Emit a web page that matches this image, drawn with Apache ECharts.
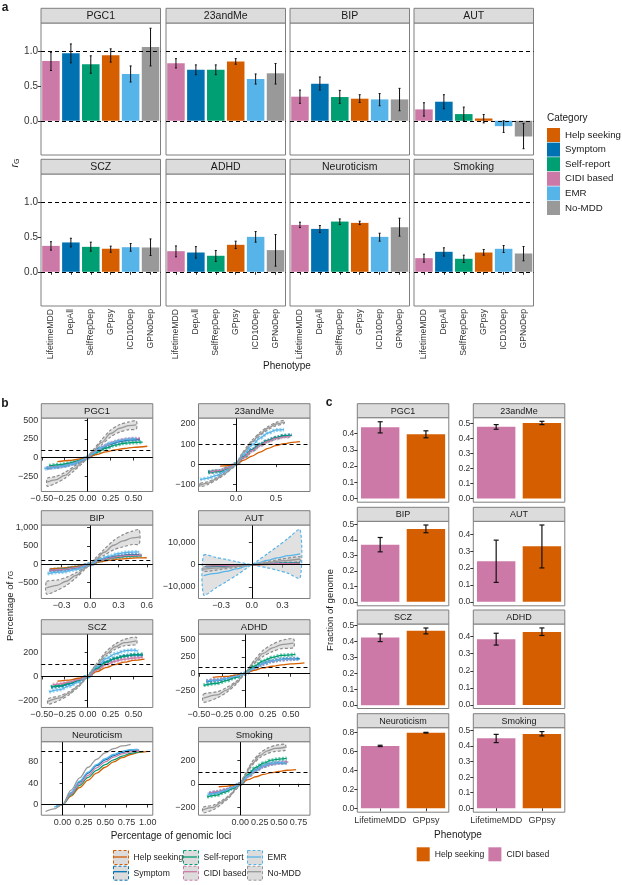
<!DOCTYPE html>
<html><head><meta charset="utf-8">
<script src="https://cdn.jsdelivr.net/npm/echarts@6/dist/echarts.min.js"></script>
<style>html,body{margin:0;padding:0;background:#fff}#chart{width:622px;height:885px}</style>
</head><body><div id="chart"></div>
<script>
// ---------------- DATA ----------------
const categories = ['Help seeking','Symptom','Self-report','CIDI based','EMR','No-MDD'];
const catColors  = ['#D55E00','#0072B2','#009E73','#CC79A7','#56B4E9','#999999'];

// Panel a
const phenotypes    = ['LifetimeMDD','DepAll','SelfRepDep','GPpsy','ICD10Dep','GPNoDep'];
const phenoCategory = ['CIDI based','Symptom','Self-report','Help seeking','EMR','No-MDD'];
const traits        = ['PGC1','23andMe','BIP','AUT','SCZ','ADHD','Neuroticism','Smoking'];
const rgMean = [
  [0.856,0.966,0.81,0.94,0.67,1.057],
  [0.823,0.732,0.732,0.85,0.598,0.68],
  [0.345,0.53,0.34,0.316,0.306,0.306],
  [0.163,0.273,0.096,0.033,-0.077,-0.225],
  [0.371,0.42,0.357,0.33,0.352,0.348],
  [0.295,0.276,0.229,0.386,0.5,0.31],
  [0.671,0.614,0.719,0.7,0.5,0.638],
  [0.195,0.286,0.186,0.276,0.329,0.262]
];
const rgLow = [
  [0.72,0.83,0.68,0.84,0.555,0.785],
  [0.756,0.66,0.66,0.81,0.526,0.526],
  [0.25,0.44,0.25,0.263,0.215,0.144],
  [0.067,0.172,0.0,-0.03,-0.167,-0.40],
  [0.31,0.357,0.295,0.28,0.295,0.233],
  [0.214,0.195,0.148,0.333,0.424,0.081],
  [0.633,0.562,0.676,0.676,0.438,0.51],
  [0.138,0.224,0.133,0.238,0.276,0.157]
];
const rgHigh = [
  [0.98,1.10,0.93,1.03,0.785,1.325],
  [0.89,0.80,0.80,0.89,0.67,0.82],
  [0.44,0.627,0.435,0.373,0.39,0.464],
  [0.258,0.373,0.196,0.09,0.0,-0.04],
  [0.43,0.48,0.424,0.367,0.405,0.47],
  [0.37,0.36,0.305,0.438,0.576,0.533],
  [0.71,0.662,0.757,0.724,0.552,0.767],
  [0.252,0.343,0.238,0.319,0.376,0.362]
];
const rgTicks  = [0, 0.5, 1.0];
const rgLabels = ['0.0','0.5','1.0'];

// Panel b (x = percentage of genomic loci, y = percentage of rG)
const pgc1_help = [[-0.33,-55],[-0.2,-40],[-0.1,-22],[0,0],[0.1,40],[0.2,75],[0.3,100],[0.4,120],[0.5,135],[0.65,150]];
const pgc1_symp = [[-0.45,-145],[-0.35,-130],[-0.25,-110],[-0.15,-80],[-0.05,-30],[0,0],[0.05,45],[0.15,125],[0.25,180],[0.35,215],[0.45,235],[0.57,240]];
const pgc1_self = [[-0.42,-110],[-0.3,-95],[-0.2,-75],[-0.1,-45],[0,0],[0.1,70],[0.2,125],[0.3,165],[0.4,190],[0.5,200],[0.6,205]];
const pgc1_cidi = [[-0.44,-140],[-0.3,-120],[-0.2,-95],[-0.1,-55],[0,0],[0.1,90],[0.2,160],[0.3,210],[0.4,240],[0.5,252],[0.57,248]];
const pgc1_emr  = [[-0.47,-150],[-0.35,-130],[-0.25,-110],[-0.15,-80],[-0.05,-30],[0,0],[0.05,50],[0.15,130],[0.25,190],[0.35,225],[0.45,245],[0.53,250]];
const pgc1_nomdd= [[-0.44,-330],[-0.35,-300],[-0.25,-240],[-0.15,-150],[-0.05,-55],[0,0],[0.05,70],[0.15,200],[0.25,320],[0.35,390],[0.45,425],[0.53,435]];
const pgc1_nomdd_hi = [[-0.44,-280],[-0.35,-255],[-0.25,-200],[-0.15,-120],[-0.05,-40],[0,0],[0.05,85],[0.15,235],[0.25,365],[0.35,440],[0.45,475],[0.53,488]];
const pgc1_nomdd_lo = [[-0.44,-385],[-0.35,-345],[-0.25,-280],[-0.15,-180],[-0.05,-70],[0,0],[0.05,55],[0.15,165],[0.25,275],[0.35,340],[0.45,372],[0.53,380]];

const m23_help = [[-0.2,-10],[-0.1,-8],[0,0],[0.1,20],[0.2,40],[0.3,60],[0.4,78],[0.5,92],[0.6,102],[0.7,108],[0.8,112]];
const m23_symp = [[-0.35,-40],[-0.2,-35],[-0.1,-20],[0,0],[0.1,38],[0.2,72],[0.3,98],[0.4,118],[0.5,132],[0.6,142],[0.7,145]];
const m23_self = [[-0.35,-42],[-0.2,-36],[-0.1,-21],[0,0],[0.1,36],[0.2,70],[0.3,96],[0.4,117],[0.5,131],[0.6,140],[0.68,143]];
const m23_cidi = [[-0.33,-40],[-0.2,-33],[-0.1,-19],[0,0],[0.1,35],[0.2,68],[0.3,93],[0.4,114],[0.5,128],[0.6,136],[0.68,138]];
const m23_emr  = [[-0.45,-78],[-0.35,-70],[-0.25,-58],[-0.15,-40],[-0.05,-15],[0,0],[0.1,50],[0.2,95],[0.3,130],[0.4,155],[0.5,170],[0.6,172]];
const m23_nomdd= [[-0.45,-105],[-0.35,-95],[-0.25,-75],[-0.15,-50],[-0.05,-18],[0,0],[0.1,62],[0.2,112],[0.3,150],[0.4,180],[0.5,200],[0.6,210]];
const m23_nomdd_hi = [[-0.45,-97],[-0.35,-88],[-0.25,-69],[-0.15,-45],[-0.05,-15],[0,0],[0.1,67],[0.2,119],[0.3,158],[0.4,188],[0.5,208],[0.6,218]];
const m23_nomdd_lo = [[-0.45,-113],[-0.35,-102],[-0.25,-81],[-0.15,-55],[-0.05,-21],[0,0],[0.1,57],[0.2,105],[0.3,142],[0.4,172],[0.5,192],[0.6,202]];

const bip_help = [[-0.42,-120],[-0.3,-100],[-0.15,-60],[0,0],[0.1,70],[0.2,110],[0.3,140],[0.4,160],[0.5,175],[0.6,180]];
const bip_symp = [[-0.43,-170],[-0.3,-145],[-0.15,-90],[0,0],[0.1,110],[0.2,180],[0.3,225],[0.4,255],[0.52,265]];
const bip_self = [[-0.42,-150],[-0.3,-130],[-0.15,-80],[0,0],[0.1,95],[0.2,160],[0.3,200],[0.4,225],[0.55,235]];
const bip_cidi = [[-0.43,-160],[-0.3,-140],[-0.15,-88],[0,0],[0.1,100],[0.2,170],[0.3,215],[0.4,245],[0.55,250]];
const bip_emr  = [[-0.45,-250],[-0.3,-210],[-0.15,-140],[0,0],[0.1,130],[0.2,220],[0.3,290],[0.4,330],[0.52,340]];
const bip_nomdd= [[-0.46,-640],[-0.35,-570],[-0.25,-460],[-0.15,-300],[-0.05,-100],[0,0],[0.05,120],[0.15,330],[0.25,520],[0.35,640],[0.45,720],[0.52,740]];
const bip_nomdd_hi = [[-0.46,-470],[-0.35,-430],[-0.25,-350],[-0.15,-230],[-0.05,-75],[0,0],[0.05,150],[0.15,410],[0.25,650],[0.35,810],[0.45,905],[0.52,940]];
const bip_nomdd_lo = [[-0.46,-810],[-0.35,-710],[-0.25,-570],[-0.15,-370],[-0.05,-125],[0,0],[0.05,90],[0.15,250],[0.25,395],[0.35,480],[0.45,540],[0.52,555]];

const aut_help = [[-0.4,-250],[-0.2,-150],[0,0],[0.2,200],[0.47,350]];
const aut_symp = [[-0.45,-1000],[-0.25,-650],[0,0],[0.25,700],[0.47,1100]];
const aut_self = [[-0.45,-700],[-0.25,-450],[0,0],[0.25,500],[0.47,800]];
const aut_cidi = [[-0.45,-600],[-0.25,-400],[0,0],[0.25,450],[0.47,700]];
const aut_emr  = [[-0.47,-4900],[-0.35,-3900],[-0.25,-3000],[-0.15,-1900],[-0.05,-650],[0,0],[0.05,700],[0.15,2000],[0.25,3100],[0.35,4100],[0.47,4900]];
const aut_emr_hi = [[-0.47,4300],[-0.35,3300],[-0.25,2400],[-0.15,1400],[-0.05,450],[0,0],[0.05,1600],[0.15,4900],[0.25,8300],[0.35,11800],[0.47,15900]];
const aut_emr_lo = [[-0.47,-13700],[-0.35,-10500],[-0.25,-7700],[-0.15,-4800],[-0.05,-1600],[0,0],[0.05,-450],[0.15,-1400],[0.25,-2500],[0.35,-3800],[0.47,-6000]];
const aut_nomdd= [[-0.47,-2000],[-0.3,-1400],[-0.15,-750],[0,0],[0.15,900],[0.3,1800],[0.47,2600]];
const aut_nomdd_hi = [[-0.47,-1000],[-0.3,-700],[-0.15,-350],[0,0],[0.15,1400],[0.3,2600],[0.47,3600]];
const aut_nomdd_lo = [[-0.47,-3000],[-0.3,-2100],[-0.15,-1150],[0,0],[0.15,400],[0.3,1000],[0.47,1600]];

const scz_help = [[-0.33,-40],[-0.2,-30],[-0.1,-15],[0,0],[0.1,40],[0.2,75],[0.3,100],[0.4,120],[0.5,135],[0.62,145]];
const scz_symp = [[-0.4,-90],[-0.3,-82],[-0.2,-62],[-0.1,-35],[0,0],[0.1,68],[0.2,122],[0.3,152],[0.4,172],[0.5,182],[0.6,180]];
const scz_self = [[-0.4,-88],[-0.3,-78],[-0.2,-58],[-0.1,-33],[0,0],[0.1,65],[0.2,118],[0.3,150],[0.4,170],[0.5,182],[0.6,186]];
const scz_cidi = [[-0.38,-70],[-0.3,-62],[-0.2,-48],[-0.1,-27],[0,0],[0.1,55],[0.2,100],[0.3,128],[0.4,145],[0.5,155],[0.6,160]];
const scz_emr  = [[-0.42,-130],[-0.3,-110],[-0.2,-80],[-0.1,-45],[0,0],[0.1,80],[0.2,150],[0.3,190],[0.4,215],[0.5,222],[0.55,212]];
const scz_nomdd= [[-0.43,-210],[-0.3,-180],[-0.2,-140],[-0.1,-80],[0,0],[0.1,100],[0.2,190],[0.3,250],[0.4,285],[0.53,300]];
const scz_nomdd_hi = [[-0.43,-188],[-0.3,-162],[-0.2,-127],[-0.1,-72],[0,0],[0.1,110],[0.2,208],[0.3,272],[0.4,312],[0.53,330]];
const scz_nomdd_lo = [[-0.43,-234],[-0.3,-198],[-0.2,-153],[-0.1,-88],[0,0],[0.1,90],[0.2,172],[0.3,228],[0.4,258],[0.53,270]];

const adhd_help = [[-0.35,-55],[-0.2,-40],[-0.1,-20],[0,0],[0.1,50],[0.2,85],[0.3,110],[0.4,130],[0.5,145],[0.65,160]];
const adhd_symp = [[-0.42,-115],[-0.3,-98],[-0.2,-72],[-0.1,-40],[0,0],[0.1,82],[0.2,150],[0.3,190],[0.4,212],[0.5,222],[0.6,218]];
const adhd_self = [[-0.45,-170],[-0.3,-140],[-0.2,-100],[-0.1,-55],[0,0],[0.1,110],[0.2,190],[0.3,240],[0.4,270],[0.55,285]];
const adhd_cidi = [[-0.42,-105],[-0.3,-90],[-0.2,-68],[-0.1,-38],[0,0],[0.1,78],[0.2,145],[0.3,185],[0.4,208],[0.55,218]];
const adhd_emr  = [[-0.42,-110],[-0.3,-94],[-0.2,-70],[-0.1,-40],[0,0],[0.1,80],[0.2,148],[0.3,188],[0.4,210],[0.5,220],[0.57,215]];
const adhd_nomdd= [[-0.45,-360],[-0.3,-310],[-0.2,-240],[-0.1,-140],[0,0],[0.1,170],[0.2,300],[0.3,380],[0.4,430],[0.53,450]];
const adhd_nomdd_hi = [[-0.45,-300],[-0.3,-265],[-0.2,-205],[-0.1,-118],[0,0],[0.1,195],[0.2,345],[0.3,435],[0.4,490],[0.53,515]];
const adhd_nomdd_lo = [[-0.45,-420],[-0.3,-355],[-0.2,-275],[-0.1,-162],[0,0],[0.1,145],[0.2,255],[0.3,325],[0.4,370],[0.53,385]];

const neu_help = [[-0.05,-3],[0,0],[0.1,16],[0.2,32],[0.3,46],[0.4,59],[0.5,70],[0.6,80],[0.7,88],[0.8,94],[0.9,98],[1.0,100]];
const neu_symp = [[-0.08,-4],[0,0],[0.1,22],[0.2,42],[0.3,59],[0.4,73],[0.5,84],[0.6,92],[0.7,98],[0.8,102],[0.9,102]];
const neu_self = [[-0.06,-3],[0,0],[0.1,18],[0.2,36],[0.3,51],[0.4,64],[0.5,75],[0.6,84],[0.7,91],[0.8,96],[0.9,99],[0.95,100]];
const neu_cidi = [[-0.07,-3],[0,0],[0.1,20],[0.2,39],[0.3,55],[0.4,69],[0.5,80],[0.6,89],[0.7,95],[0.8,99],[0.9,101]];
const neu_emr  = [[-0.1,-5],[0,0],[0.1,23],[0.2,44],[0.3,61],[0.4,75],[0.5,86],[0.6,94],[0.7,100],[0.8,103],[0.88,104]];
const neu_nomdd= [[-0.2,-13],[-0.1,-8],[0,0],[0.1,27],[0.2,50],[0.3,70],[0.4,85],[0.5,97],[0.6,105],[0.7,110],[0.8,113]];

const smk_help = [[-0.28,-25],[-0.2,-22],[-0.1,-12],[0,0],[0.1,35],[0.2,60],[0.3,80],[0.4,95],[0.5,105],[0.6,115],[0.72,120]];
const smk_symp = [[-0.4,-82],[-0.3,-72],[-0.2,-56],[-0.1,-31],[0,0],[0.1,66],[0.2,116],[0.3,150],[0.4,170],[0.5,178],[0.6,180]];
const smk_self = [[-0.43,-110],[-0.3,-95],[-0.2,-70],[-0.1,-40],[0,0],[0.1,80],[0.2,140],[0.3,175],[0.4,200],[0.5,210],[0.6,215]];
const smk_cidi = [[-0.4,-78],[-0.3,-68],[-0.2,-53],[-0.1,-30],[0,0],[0.1,64],[0.2,114],[0.3,148],[0.4,168],[0.5,178],[0.62,185]];
const smk_emr  = [[-0.42,-90],[-0.3,-76],[-0.2,-58],[-0.1,-32],[0,0],[0.1,68],[0.2,118],[0.3,152],[0.4,172],[0.5,180],[0.6,178]];
const smk_nomdd= [[-0.48,-220],[-0.35,-200],[-0.25,-160],[-0.15,-110],[-0.05,-40],[0,0],[0.05,60],[0.15,170],[0.25,240],[0.35,280],[0.45,300],[0.58,310]];
const smk_nomdd_hi = [[-0.48,-198],[-0.35,-182],[-0.25,-146],[-0.15,-100],[-0.05,-36],[0,0],[0.05,66],[0.15,185],[0.25,260],[0.35,303],[0.45,325],[0.58,335]];
const smk_nomdd_lo = [[-0.48,-245],[-0.35,-220],[-0.25,-176],[-0.15,-120],[-0.05,-44],[0,0],[0.05,54],[0.15,155],[0.25,220],[0.35,257],[0.45,275],[0.58,285]];

// curves per facet, in category order (Help seeking, Symptom, Self-report, CIDI based, EMR, No-MDD)
const bCurves = [
  [pgc1_help,pgc1_symp,pgc1_self,pgc1_cidi,pgc1_emr,pgc1_nomdd],
  [m23_help,m23_symp,m23_self,m23_cidi,m23_emr,m23_nomdd],
  [bip_help,bip_symp,bip_self,bip_cidi,bip_emr,bip_nomdd],
  [aut_help,aut_symp,aut_self,aut_cidi,aut_emr,aut_nomdd],
  [scz_help,scz_symp,scz_self,scz_cidi,scz_emr,scz_nomdd],
  [adhd_help,adhd_symp,adhd_self,adhd_cidi,adhd_emr,adhd_nomdd],
  [neu_help,neu_symp,neu_self,neu_cidi,neu_emr,neu_nomdd],
  [smk_help,smk_symp,smk_self,smk_cidi,smk_emr,smk_nomdd]
];
// confidence bands drawn as grey ribbons: [facet, category, hi, lo]
const bBands = [
  [0,5,pgc1_nomdd_hi,pgc1_nomdd_lo],
  [1,5,m23_nomdd_hi,m23_nomdd_lo],
  [2,5,bip_nomdd_hi,bip_nomdd_lo],
  [3,4,aut_emr_hi,aut_emr_lo],
  [3,5,aut_nomdd_hi,aut_nomdd_lo],
  [4,5,scz_nomdd_hi,scz_nomdd_lo],
  [5,5,adhd_nomdd_hi,adhd_nomdd_lo],
  [7,5,smk_nomdd_hi,smk_nomdd_lo]
];
const bXTicks = [[-0.5,-0.25,0,0.25,0.5],[0,0.5],[-0.3,0,0.3,0.6],[-0.3,0,0.3],[-0.5,-0.25,0,0.25,0.5],[-0.5,-0.25,0,0.25,0.5],[0,0.25,0.5,0.75,1],[-0.25,0,0.25,0.5,0.75]];
const bXLabels = [['\u22120.50','\u22120.25','0.00','0.25','0.50'],['0.0','0.5'],['\u22120.3','0.0','0.3','0.6'],['\u22120.3','0.0','0.3'],['\u22120.50','\u22120.25','0.00','0.25','0.50'],['\u22120.50','\u22120.25','0.00','0.25','0.50'],['0.00','0.25','0.50','0.75','1.00'],['\u22120.25','0.00','0.25','0.50','0.75']];
const bYTicks = [[-250,0,250,500],[-100,0,100,200],[-500,0,500,1000],[-10000,0,10000],[-200,0,200],[-250,0,250,500],[0,40,80],[-200,0,200]];
const bYLabels = [['\u2212250','0','250','500'],['\u2212100','0','100','200'],['\u2212500','0','500','1,000'],['\u221210,000','0','10,000'],['\u2212200','0','200'],['\u2212250','0','250','500'],['0','40','80'],['\u2212200','0','200']];

// Panel c
const cPhenotypes = ['LifetimeMDD','GPpsy'];
const cCategories = ['CIDI based','Help seeking'];
const fracMean = [[0.44,0.396],[0.476,0.502],[0.37,0.472],[0.241,0.33],[0.423,0.465],[0.384,0.427],[0.66,0.8],[0.451,0.479]];
const fracLow  = [[0.405,0.375],[0.46,0.491],[0.324,0.448],[0.115,0.201],[0.398,0.446],[0.35,0.406],[0.653,0.796],[0.423,0.466]];
const fracHigh = [[0.474,0.418],[0.491,0.513],[0.417,0.498],[0.366,0.456],[0.446,0.483],[0.419,0.45],[0.667,0.804],[0.476,0.494]];
const fracTicks = [[0,0.1,0.2,0.3,0.4],[0,0.1,0.2,0.3,0.4,0.5],[0,0.1,0.2,0.3,0.4,0.5],[0,0.1,0.2,0.3,0.4],[0,0.1,0.2,0.3,0.4,0.5],[0,0.1,0.2,0.3,0.4],[0,0.2,0.4,0.6,0.8],[0,0.1,0.2,0.3,0.4,0.5]];

// ---------------- LAYOUT ----------------
const FONT = '"Liberation Sans", Arial, Helvetica, sans-serif';
const TXT = '#333';
const grids=[], xAxes=[], yAxes=[], series=[], graphics=[];
const colorOf = c => catColors[categories.indexOf(c)];

function strip(left, top, width, h, text, fs){
  graphics.push({type:'rect', silent:true, z:10, shape:{x:left, y:top-h, width:width, height:h},
    style:{fill:'#dcdcdc', stroke:'#7f7f7f', lineWidth:1}});
  graphics.push({type:'text', silent:true, z:11, x:left+width/2, y:top-h/2+0.5,
    style:{text:text, fill:'#1a1a1a', font:fs+'px '+FONT, align:'center', verticalAlign:'middle'}});
}
function lbl(text, x, y, opts, rot){
  const g = {type:'text', silent:true, x:x, y:y,
    style:Object.assign({text:text, fill:'#1a1a1a', font:'10px '+FONT, align:'center', verticalAlign:'middle'}, opts||{})};
  if(rot) g.rotation = rot;
  graphics.push(g);
}
function mapFmt(ticks, labels){ return v => { const i = ticks.findIndex(t => Math.abs(t-v)<1e-9); return i<0?'':labels[i]; }; }
function errSeries(gi, data, cap, lw){
  return {type:'custom', xAxisIndex:gi, yAxisIndex:gi, data:data, encode:{x:0,y:[1,2]}, z:6, silent:true,
    renderItem:(p, api)=>{
      const a=api.coord([api.value(0), api.value(1)]), b=api.coord([api.value(0), api.value(2)]);
      const x=a[0], st={stroke:'#111', lineWidth:lw};
      return {type:'group', children:[
        {type:'line', shape:{x1:x,y1:a[1],x2:x,y2:b[1]}, style:st},
        {type:'line', shape:{x1:x-cap,y1:a[1],x2:x+cap,y2:a[1]}, style:st},
        {type:'line', shape:{x1:x-cap,y1:b[1],x2:x+cap,y2:b[1]}, style:st}]};
    }};
}

// ---- Panel a ----
const aCols=[41,166,290,414], aRows=[23,174], aW=119.5, aH=132;
traits.forEach((t,f)=>{
  const col=f%4, row=Math.floor(f/4), gi=grids.length;
  grids.push({left:aCols[col], top:aRows[row], width:aW, height:aH, show:true, borderColor:'#7f7f7f', borderWidth:1, backgroundColor:'#fff'});
  xAxes.push({type:'category', gridIndex:gi, data:phenotypes, axisLine:{show:false},
    axisTick:{show:row===1, length:3, alignWithLabel:true, lineStyle:{color:TXT}},
    axisLabel:{show:row===1, interval:0, rotate:90, fontSize:8.7, margin:3, color:TXT, fontFamily:FONT}});
  yAxes.push({type:'value', gridIndex:gi, min:-0.49, max:1.4, splitLine:{show:false}, axisLine:{show:false},
    axisTick:{show:col===0, length:3, customValues:rgTicks, lineStyle:{color:TXT}},
    axisLabel:{show:col===0, customValues:rgTicks, formatter:mapFmt(rgTicks,rgLabels), fontSize:10, margin:3, color:TXT, fontFamily:FONT}});
  phenotypes.forEach((p,k)=>{
    const s = {type:'bar', name:phenoCategory[k], xAxisIndex:gi, yAxisIndex:gi, stack:'a'+f, barWidth:'88%',
      itemStyle:{color:colorOf(phenoCategory[k])},
      data:phenotypes.map((q,j)=> j===k ? rgMean[f][k] : '-')};
    if(k===0){
      s.markLine = {silent:true, symbol:'none', label:{show:false}, animation:false,
        lineStyle:{color:'#000', type:[4,3], width:1.2}, data:[{yAxis:0},{yAxis:1}]};
    }
    series.push(s);
  });
  series.push(errSeries(gi, phenotypes.map((p,k)=>[k, rgLow[f][k], rgHigh[f][k]]), 1, 1));
  strip(aCols[col], aRows[row], aW, 14.7, t, 10.5);
});

// ---- Panel b ----
const bCols=[41.3,198.5], bRows=[418,525,634,741.7], bW=111.5, bH=73.5;
const bXRange=[[-0.505,0.71],[-0.47,0.925],[-0.516,0.664],[-0.52,0.567],[-0.505,0.71],[-0.505,0.71],[-0.25,1.06],[-0.54,0.90]];
const bYRange=[[-454,527],[-137,230],[-929,1071],[-15300,18000],[-261,357],[-497,585],[-20,118],[-266,357]];
traits.forEach((t,f)=>{
  const col=f%2, row=Math.floor(f/2), gi=grids.length;
  grids.push({left:bCols[col], top:bRows[row], width:bW, height:bH, show:true, borderColor:'#7f7f7f', borderWidth:1, backgroundColor:'#fff'});
  xAxes.push({type:'value', gridIndex:gi, min:bXRange[f][0], max:bXRange[f][1], splitLine:{show:false}, axisLine:{show:false},
    axisTick:{show:true, length:3, customValues:bXTicks[f], lineStyle:{color:TXT}},
    axisLabel:{customValues:bXTicks[f], formatter:mapFmt(bXTicks[f],bXLabels[f]), fontSize:9, margin:3, color:TXT, fontFamily:FONT}});
  yAxes.push({type:'value', gridIndex:gi, min:bYRange[f][0], max:bYRange[f][1], splitLine:{show:false}, axisLine:{show:false},
    axisTick:{show:true, length:3, customValues:bYTicks[f], lineStyle:{color:TXT}},
    axisLabel:{customValues:bYTicks[f], formatter:mapFmt(bYTicks[f],bYLabels[f]), fontSize:9, margin:3, color:TXT, fontFamily:FONT}});
  // reference lines
  series.push({type:'line', xAxisIndex:gi, yAxisIndex:gi, data:[], silent:true,
    markLine:{silent:true, symbol:'none', label:{show:false}, animation:false, z:8,
      data:[{yAxis:0, lineStyle:{color:'#000', type:'solid', width:1}},
            {xAxis:0, lineStyle:{color:'#000', type:'solid', width:1}},
            {yAxis:100, lineStyle:{color:'#000', type:[4,3], width:1.2}}]}});
  // ribbons
  bBands.filter(b=>b[0]===f).forEach(b=>{
    const hi=b[2], lo=b[3], edge = b[1]===5 ? '#8c8c8c' : catColors[b[1]];
    series.push({type:'custom', xAxisIndex:gi, yAxisIndex:gi, data:[hi[0]], silent:true, z:2,
      renderItem:(p, api)=>{
        const pts = hi.map(q=>api.coord(q)).concat(lo.slice().reverse().map(q=>api.coord(q)));
        return {type:'polygon', shape:{points:pts, smooth:0.25}, style:{fill:'rgba(200,200,200,0.55)', stroke:edge, lineWidth:1.2, lineDash:[3,2]}};
      }});
  });
  // curves
  [0,1,2,3,4,5].forEach(c=>{
    const d=bCurves[f][c];
    const beaded = (c===1||c===2||c===3||c===4) && f!==6 && f!==3;
    if(beaded){
      series.push({type:'line', xAxisIndex:gi, yAxisIndex:gi, data:d, smooth:0.35, smoothMonotone:'x', showSymbol:false, silent:true, z:3,
        lineStyle:{color:catColors[c], width:4, type:[2,1.5], opacity:0.55}});
    }
    series.push({type:'line', name:'b:'+categories[c], xAxisIndex:gi, yAxisIndex:gi, data:d, smooth:0.35, smoothMonotone:'x', showSymbol:false, silent:true, z:4,
      itemStyle:{color:catColors[c]}, lineStyle:{color:catColors[c], width:1.3}});
  });
  strip(bCols[col], bRows[row], bW, 14.3, t, 9.5);
});

// ---- Panel c ----
const cCols=[357.3,473.3], cRows=[417.7,521.3,624,727.7], cW=91.5, cH=84.5;
const cYRange=[[-0.023,0.499],[-0.025,0.537],[-0.026,0.522],[-0.024,0.478],[-0.021,0.508],[-0.02,0.473],[-0.042,0.853],[-0.026,0.519]];
traits.forEach((t,f)=>{
  const col=f%2, row=Math.floor(f/2), gi=grids.length;
  grids.push({left:cCols[col], top:cRows[row], width:cW, height:cH, show:true, borderColor:'#7f7f7f', borderWidth:1, backgroundColor:'#fff'});
  xAxes.push({type:'category', gridIndex:gi, data:cPhenotypes, axisLine:{show:false},
    axisTick:{show:row===3, length:3, alignWithLabel:true, lineStyle:{color:TXT}},
    axisLabel:{show:row===3, interval:0, fontSize:9, margin:4, color:TXT, fontFamily:FONT}});
  const tk=fracTicks[f];
  yAxes.push({type:'value', gridIndex:gi, min:cYRange[f][0], max:cYRange[f][1], splitLine:{show:false}, axisLine:{show:false},
    axisTick:{show:true, length:3, customValues:tk, lineStyle:{color:TXT}},
    axisLabel:{customValues:tk, formatter:v=>v.toFixed(1), fontSize:8.5, margin:3, color:TXT, fontFamily:FONT}});
  cPhenotypes.forEach((p,k)=>{
    series.push({type:'bar', name:'c:'+cCategories[k], xAxisIndex:gi, yAxisIndex:gi, stack:'c'+f, barWidth:'84%',
      itemStyle:{color:colorOf(cCategories[k])}, data:cPhenotypes.map((q,j)=> j===k ? fracMean[f][k] : '-')});
  });
  series.push(errSeries(gi, cPhenotypes.map((p,k)=>[k, fracLow[f][k], fracHigh[f][k]]), 2.5, 1.2));
  strip(cCols[col], cRows[row], cW, 14, t, 9);
});

// ---- titles & labels ----
lbl('a', 5, 8, {font:'bold 12px '+FONT});
lbl('b', 5, 404, {font:'bold 12px '+FONT});
lbl('c', 329, 403, {font:'bold 12px '+FONT});
graphics.push({type:'text', silent:true, x:14, y:163, rotation:Math.PI/2,
  style:{text:'{r|r}{g|G}', align:'center', verticalAlign:'middle', fill:'#1a1a1a',
    rich:{r:{fontSize:11, fontStyle:'italic', fontFamily:FONT, verticalAlign:'bottom'}, g:{fontSize:7, fontFamily:FONT, verticalAlign:'bottom', padding:[6,0,0,0]}}}});
lbl('Phenotype', 287, 366, {font:'10px '+FONT});
graphics.push({type:'text', silent:true, x:9, y:606, rotation:Math.PI/2,
  style:{text:'{t|Percentage of }{r|r}{g|G}', align:'center', verticalAlign:'middle', fill:'#1a1a1a',
    rich:{t:{fontSize:9.5, fontFamily:FONT, verticalAlign:'bottom'}, r:{fontSize:9.5, fontStyle:'italic', fontFamily:FONT, verticalAlign:'bottom'}, g:{fontSize:6.5, fontFamily:FONT, verticalAlign:'bottom', padding:[5,0,0,0]}}}});
lbl('Percentage of genomic loci', 171, 836, {font:'10px '+FONT});
lbl('Fraction of genome', 330, 610, {font:'9.5px '+FONT}, Math.PI/2);
lbl('Phenotype', 458, 835, {font:'10px '+FONT});
lbl('Category', 547, 118, {font:'10px '+FONT, align:'left'});

// centre lines for panel-b legend keys
const bLegCols=[[113,'Help seeking','Symptom'],[183,'Self-report','CIDI based'],[247,'EMR','No-MDD']];
bLegCols.forEach(([x,n1,n2])=>{
  [[n1,857],[n2,871.7]].forEach(([n,y])=>{
    graphics.push({type:'line', silent:true, z:200, shape:{x1:x+1,y1:y,x2:x+14,y2:y}, style:{stroke:colorOf(n), lineWidth:1.3}});
  });
});

const legends = [
  {left:547, top:128, orient:'vertical', padding:0, itemWidth:13, itemHeight:14, itemGap:0.6, icon:'rect', selectedMode:false,
    data:categories, textStyle:{fontSize:9.7, color:'#1a1a1a', fontFamily:FONT}},
  {left:416.7, top:847.3, orient:'horizontal', padding:0, itemWidth:13, itemHeight:14, itemGap:4, icon:'rect', selectedMode:false,
    data:['c:Help seeking','c:CIDI based'], formatter:n=>n.slice(2), textStyle:{fontSize:8.6, color:'#1a1a1a', fontFamily:FONT}}
];
bLegCols.forEach(([x,n1,n2])=>{
  legends.push({left:x, top:850, orient:'vertical', padding:0, itemWidth:15, itemHeight:14, itemGap:0.7, selectedMode:false,
    data:[n1,n2].map(n=>({name:'b:'+n, icon:'rect', itemStyle:{color:'#dcdcdc', borderColor:colorOf(n), borderWidth:1, borderType:[3,2]}})),
    formatter:n=>n.slice(2), textStyle:{fontSize:8.6, color:'#1a1a1a', fontFamily:FONT}});
});

const chart = echarts.init(document.getElementById('chart'), null, {renderer:'canvas'});
chart.setOption({
  animation:false, backgroundColor:'#fff', textStyle:{fontFamily:FONT},
  grid:grids, xAxis:xAxes, yAxis:yAxes, series:series, legend:legends, graphic:graphics
});
</script></body></html>
